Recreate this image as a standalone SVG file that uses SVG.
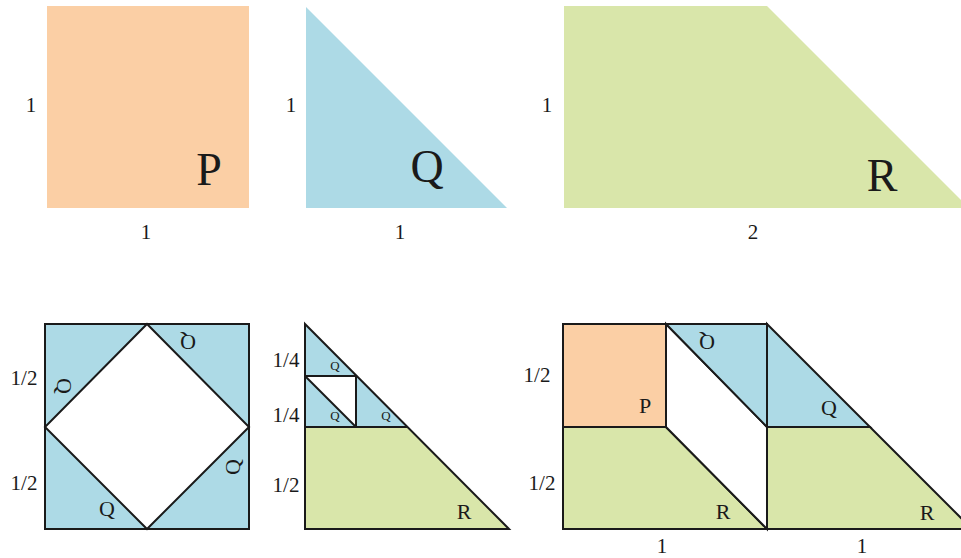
<svg xmlns="http://www.w3.org/2000/svg" width="961" height="558" viewBox="0 0 961 558" font-family="'Liberation Serif', 'Times New Roman', serif">
<style>
text{font-family:'Liberation Serif','Times New Roman',serif;fill:#1a1a1a;text-anchor:middle}
.big{font-size:46px}
.dim{font-size:21px}
.lab{font-size:22px}
.sm{font-size:13px}
.p{fill:#fbcfa5}
.q{fill:#addae6}
.r{fill:#d9e6aa}
.w{fill:#ffffff}
.s{stroke:#1a1a1a;stroke-width:2;stroke-linejoin:miter}
.ln{stroke:#1a1a1a;stroke-width:2;fill:none}
</style>
<rect width="961" height="558" fill="#ffffff"/>

<g id="shapeP">
<rect class="p" x="47" y="6" width="202" height="202"/>
<text class="big" x="209" y="185">P</text>
<text class="dim" x="31" y="112">1</text>
<text class="dim" x="146" y="239">1</text>
</g>

<g id="shapeQ">
<polygon class="q" points="306,7 306,208 507,208"/>
<text class="big" x="427" y="182">Q</text>
<text class="dim" x="291" y="112">1</text>
<text class="dim" x="400" y="239">1</text>
</g>

<g id="shapeR">
<polygon class="r" points="564,6 767,6 969,208 564,208"/>
<text class="big" x="882" y="191">R</text>
<text class="dim" x="547" y="112">1</text>
<text class="dim" x="753" y="239">2</text>
</g>

<g id="squareOfQ">
<rect class="q s" x="45" y="324" width="204" height="205"/>
<polygon class="w s" points="147,324 249,427 147,529 45,427"/>
<text class="lab" transform="translate(64,386) rotate(90)" dominant-baseline="central">Q</text>
<text class="lab" transform="translate(188,342) rotate(180)" dominant-baseline="central">Q</text>
<text class="lab" transform="translate(232,467) rotate(-90)" dominant-baseline="central">Q</text>
<text class="lab" x="107" y="516">Q</text>
<text class="dim" x="24" y="385">1/2</text>
<text class="dim" x="24" y="490">1/2</text>
</g>

<g id="triangleSplit">
<polygon class="r" points="305,427 407,427 509,529 305,529"/>
<polygon class="q" points="305,324 407,427 305,427"/>
<polygon class="w" points="305,376 356,376 356,427"/>
<g class="ln">
<polygon points="305,324 509,529 305,529"/>
<line x1="305" y1="427" x2="407" y2="427"/>
<line x1="305" y1="376" x2="356" y2="376"/>
<line x1="356" y1="376" x2="356" y2="427"/>
<line x1="305" y1="376" x2="356" y2="427"/>
</g>
<text class="sm" x="335" y="370">Q</text>
<text class="sm" x="335" y="420">Q</text>
<text class="sm" x="386" y="420">Q</text>
<text class="lab" x="464" y="519">R</text>
<text class="dim" x="286" y="367">1/4</text>
<text class="dim" x="286" y="422">1/4</text>
<text class="dim" x="286" y="492">1/2</text>
</g>

<g id="trapezoidSplit">
<rect class="p s" x="563" y="324" width="103" height="103"/>
<polygon class="r s" points="563,427 666,427 767,529 563,529"/>
<polygon class="w s" points="666,324 767,427 767,529 666,427"/>
<polygon class="q s" points="666,324 767,324 767,427"/>
<polygon class="q s" points="767,324 870,427 767,427"/>
<polygon class="r s" points="767,427 870,427 972,529 767,529"/>
<text class="lab" transform="translate(707,342) rotate(180)" dominant-baseline="central">Q</text>
<text class="lab" x="645" y="413">P</text>
<text class="lab" x="829" y="415">Q</text>
<text class="lab" x="723" y="519">R</text>
<text class="lab" x="927" y="520">R</text>
<text class="dim" x="537" y="382">1/2</text>
<text class="dim" x="542" y="490">1/2</text>
<text class="dim" x="662" y="553">1</text>
<text class="dim" x="862" y="553">1</text>
</g>

<g id="connectors"></g>
</svg>
